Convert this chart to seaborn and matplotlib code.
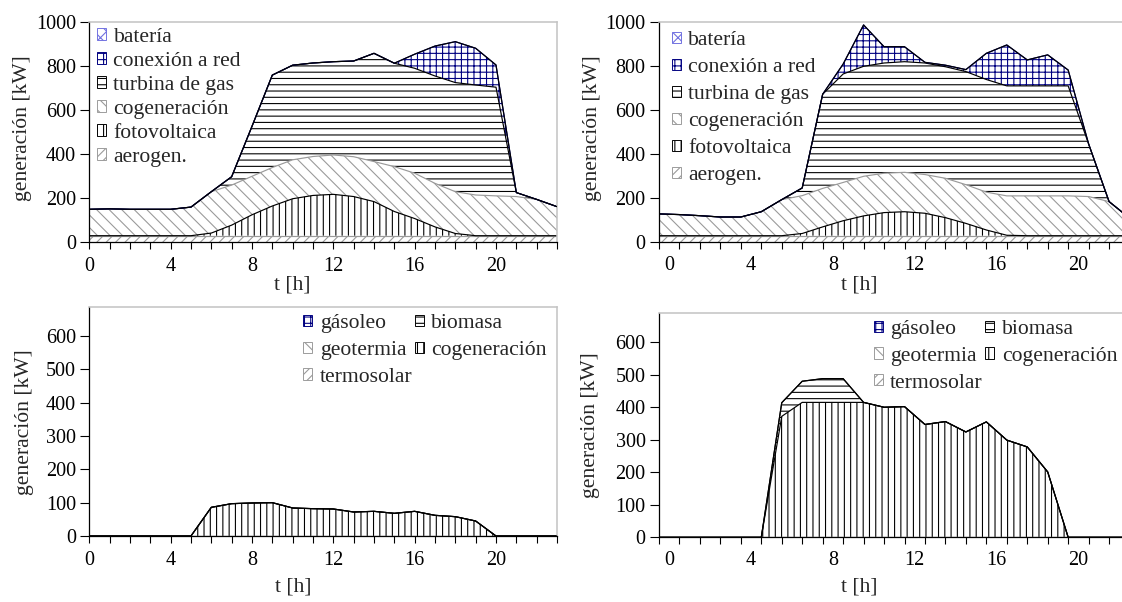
import numpy as np
import matplotlib
matplotlib.use("Agg")
import matplotlib.pyplot as plt
from matplotlib.patches import Patch
import seaborn as sns

# ==============================================================================
# Hourly generation profiles (kW), two cases, electric (top) and thermal (bottom)
# values
# ==============================================================================

hours = list(range(24))
label_hours = [0, 4, 8, 12, 16, 20]

# --- top left: electricity, case A ---
ea_aerogen = [30, 30, 30, 30, 30, 30, 30, 30, 30, 30, 30, 30, 30, 30, 30, 30, 30, 30, 30, 30, 30, 30, 30, 30]
ea_fotovoltaica = [0, 0, 0, 0, 0, 0, 12, 48, 95, 135, 168, 183, 188, 178, 155, 110, 78, 40, 10, 0, 0, 0, 0, 0]
ea_cogeneracion = [120, 122, 120, 120, 120, 130, 188, 182, 175, 175, 177, 177, 179, 181, 182, 204, 206, 198, 190, 185, 181, 178, 165, 132]
ea_turbina = [0, 0, 0, 0, 0, 0, 0, 38, 227, 420, 430, 425, 424, 435, 492, 470, 477, 488, 496, 500, 494, 18, 0, 0]
ea_red = [0, 0, 0, 0, 0, 0, 0, 0, 0, 0, 0, 0, 0, 0, 0, 0, 64, 136, 186, 167, 101, 0, 0, 0]
ea_bateria = [0, 0, 0, 0, 0, 0, 0, 0, 0, 0, 0, 0, 0, 0, 0, 0, 0, 0, 0, 0, 0, 0, 0, 0]

# --- top right: electricity, case B ---
eb_aerogen = [30, 30, 30, 30, 30, 30, 30, 30, 30, 30, 30, 30, 30, 30, 30, 30, 30, 30, 30, 30, 30, 30, 30, 30]
eb_fotovoltaica = [0, 0, 0, 0, 0, 0, 0, 10, 40, 68, 90, 105, 109, 102, 82, 56, 26, 2, 0, 0, 0, 0, 0, 0]
eb_cogeneracion = [99, 96, 91, 85, 85, 109, 164, 172, 175, 174, 180, 179, 179, 176, 179, 176, 172, 179, 181, 181, 181, 178, 155, 80]
eb_turbina = [0, 0, 0, 0, 0, 0, 0, 35, 428, 493, 500, 501, 503, 507, 507, 514, 512, 500, 500, 500, 500, 239, 0, 0]
eb_red = [0, 0, 0, 0, 0, 0, 0, 0, 0, 45, 188, 74, 68, 3, 7, 9, 119, 186, 118, 141, 72, 0, 0, 0]
eb_bateria = [0, 0, 0, 0, 0, 0, 0, 0, 0, 0, 0, 0, 0, 0, 0, 0, 0, 0, 0, 0, 0, 0, 0, 0]

# --- bottom left: heat, case A ---
ta_termosolar = [0, 0, 0, 0, 0, 0, 0, 0, 0, 0, 0, 0, 0, 0, 0, 0, 0, 0, 0, 0, 0, 0, 0, 0]
ta_geotermia = [0, 0, 0, 0, 0, 0, 0, 0, 0, 0, 0, 0, 0, 0, 0, 0, 0, 0, 0, 0, 0, 0, 0, 0]
ta_cogeneracion = [0, 0, 0, 0, 0, 0, 86, 97, 99, 100, 84, 82, 81, 72, 74, 68, 74, 62, 58, 45, 0, 0, 0, 0]
ta_biomasa = [0, 0, 0, 0, 0, 0, 0, 0, 0, 0, 0, 0, 0, 0, 0, 0, 0, 0, 0, 0, 0, 0, 0, 0]
ta_gasoleo = [0, 0, 0, 0, 0, 0, 0, 0, 0, 0, 0, 0, 0, 0, 0, 0, 0, 0, 0, 0, 0, 0, 0, 0]

# --- bottom right: heat, case B ---
tb_termosolar = [0, 0, 0, 0, 0, 0, 0, 0, 0, 0, 0, 0, 0, 0, 0, 0, 0, 0, 0, 0, 0, 0, 0, 0]
tb_geotermia = [0, 0, 0, 0, 0, 0, 0, 0, 0, 0, 0, 0, 0, 0, 0, 0, 0, 0, 0, 0, 0, 0, 0, 0]
tb_cogeneracion = [0, 0, 0, 0, 0, 0, 372, 415, 415, 415, 415, 400, 402, 347, 356, 324, 355, 299, 278, 201, 0, 0, 0, 0]
tb_biomasa = [0, 0, 0, 0, 0, 0, 42, 65, 73, 73, 0, 0, 0, 0, 0, 0, 0, 0, 0, 0, 0, 0, 0, 0]
tb_gasoleo = [0, 0, 0, 0, 0, 0, 0, 0, 0, 0, 0, 0, 0, 0, 0, 0, 0, 0, 0, 0, 0, 0, 0, 0]

elec_names = ["aerogen.", "fotovoltaica", "cogeneración", "turbina de gas", "conexión a red", "batería"]
heat_names = ["termosolar", "geotermia", "cogeneración", "biomasa", "gásoleo"]

GRAY = "#9a9a9a"
NAVY = "#000080"
elec_styles = {
    "aerogen.": ("////", GRAY),
    "fotovoltaica": ("|||", "black"),
    "cogeneración": ("\\\\\\", GRAY),
    "turbina de gas": ("---", "black"),
    "conexión a red": ("+++", NAVY),
    "batería": ("xxx", "#7070e0"),
}
heat_styles = {
    "termosolar": ("////", GRAY),
    "geotermia": ("\\\\\\", GRAY),
    "cogeneración": ("|||", "black"),
    "biomasa": ("---", "black"),
    "gásoleo": ("+++", NAVY),
}

# 1. Style
sns.set_theme(style="ticks")
plt.rcParams["font.family"] = ["Liberation Serif", "DejaVu Serif"]
plt.rcParams["hatch.linewidth"] = 0.7
FS_TICK = 12.8
FS_TEXT = 13.8

DPI = 113
fig = plt.figure(figsize=(1122 / DPI, 602 / DPI), dpi=DPI)
W, H = 1122.0, 602.0


def px_axes(left, top, right, bottom):
    return fig.add_axes([left / W, 1 - bottom / H, (right - left) / W, (bottom - top) / H])


def draw_stack(ax, layers, names, styles):
    x = np.array(hours)
    base = np.zeros(len(x))
    tops = []
    for name, vals in zip(names, layers):
        top = base + np.array(vals)
        hatch, col = styles[name]
        ax.fill_between(x, base, top, facecolor="none", edgecolor=col,
                        hatch=hatch, linewidth=0, zorder=1)
        tops.append((name, top))
        base = top
    # boundaries between layers, then the outline of the whole stack
    for name, top in tops[:-1]:
        col = styles[name][1]
        sns.lineplot(x=x, y=top, color=col, linewidth=0.75, sort=False, ax=ax, zorder=2)
    sns.lineplot(x=x, y=base, color="black", linewidth=0.75, sort=False, ax=ax, zorder=3)


def style_axes(ax, ymax, ystep, centred):
    ax.set_ylim(0, ymax)
    ax.set_yticks(np.arange(0, ymax + 1, ystep))
    if centred:
        # category axis: marks between hours, labels in the middle
        ax.set_xlim(0, 24)
        ax.set_xticks(np.arange(0, 25), minor=True)
        ax.set_xticks([h + 0.5 for h in label_hours], labels=[str(h) for h in label_hours])
        ax.tick_params(axis="x", which="major", length=0, pad=9)
        ax.tick_params(axis="x", which="minor", length=4.5, width=0.7, color="black")
    else:
        ax.set_xlim(0, 23)
        ax.set_xticks(hours, labels=[str(h) if h in label_hours else "" for h in hours])
        ax.tick_params(axis="x", which="major", length=4.5, width=0.7, pad=5)
    ax.tick_params(axis="y", length=5.5, width=0.7, pad=3)
    ax.tick_params(labelsize=FS_TICK, colors="black")
    ax.spines["left"].set_color("black")
    ax.spines["bottom"].set_color("black")
    ax.spines["left"].set_linewidth(0.8)
    ax.spines["bottom"].set_linewidth(0.8)
    for side in ["top", "right"]:
        ax.spines[side].set_color("#c4c4c4")
        ax.spines[side].set_linewidth(1.0)
    ax.set_xlabel("t [h]", fontsize=FS_TEXT)
    ax.set_ylabel("generación [kW]", fontsize=FS_TEXT)
    ax.grid(False)
    ax.set_facecolor("white")


def add_legend(ax, order, styles, anchor, ncol, spacing):
    handles = [Patch(facecolor="white", edgecolor=styles[n][1], hatch=styles[n][0],
                     linewidth=0.6, label=n) for n in order]
    ax.legend(handles=handles, loc="upper left", bbox_to_anchor=anchor, ncol=ncol,
              frameon=False, fontsize=FS_TEXT, handlelength=0.42, handleheight=0.42,
              handletextpad=0.35, labelspacing=spacing, borderpad=0, borderaxespad=0,
              columnspacing=0.1)


# 2. Panels
ax_ea = px_axes(89.3, 22.3, 557, 242.3)
ax_eb = px_axes(659, 22.3, 1150, 242.3)
ax_ta = px_axes(89.3, 307.3, 557, 536)
ax_tb = px_axes(659, 313.3, 1150, 537.3)

draw_stack(ax_ea, [ea_aerogen, ea_fotovoltaica, ea_cogeneracion, ea_turbina, ea_red, ea_bateria],
           elec_names, elec_styles)
draw_stack(ax_eb, [eb_aerogen, eb_fotovoltaica, eb_cogeneracion, eb_turbina, eb_red, eb_bateria],
           elec_names, elec_styles)
draw_stack(ax_ta, [ta_termosolar, ta_geotermia, ta_cogeneracion, ta_biomasa, ta_gasoleo],
           heat_names, heat_styles)
draw_stack(ax_tb, [tb_termosolar, tb_geotermia, tb_cogeneracion, tb_biomasa, tb_gasoleo],
           heat_names, heat_styles)

style_axes(ax_ea, 1000, 200, False)
style_axes(ax_eb, 1000, 200, True)
style_axes(ax_ta, 686, 100, False)
style_axes(ax_tb, 689, 100, True)

# axis titles placed as in the original
ax_ea.yaxis.set_label_coords(-0.122, 0.52)
ax_eb.yaxis.set_label_coords(-0.116, 0.52)
ax_ta.yaxis.set_label_coords(-0.118, 0.5)
ax_tb.yaxis.set_label_coords(-0.120, 0.5)
ax_ea.xaxis.set_label_coords(0.435, -0.15)
ax_eb.xaxis.set_label_coords(0.407, -0.15)
ax_ta.xaxis.set_label_coords(0.437, -0.18)
ax_tb.xaxis.set_label_coords(0.407, -0.178)

# 3. Legends
elec_order = elec_names[::-1]
heat_order = ["gásoleo", "geotermia", "termosolar", "biomasa", "cogeneración"]
add_legend(ax_ea, elec_order, elec_styles, (0.016, 0.975), 1, 0.23)
add_legend(ax_eb, elec_order, elec_styles, (0.026, 0.96), 1, 0.37)
add_legend(ax_ta, heat_order, heat_styles, (0.457, 0.97), 2, 0.36)
add_legend(ax_tb, heat_order, heat_styles, (0.437, 0.97), 2, 0.36)

fig.savefig("out.png", dpi=DPI, facecolor="white")
print("saved out.png")
